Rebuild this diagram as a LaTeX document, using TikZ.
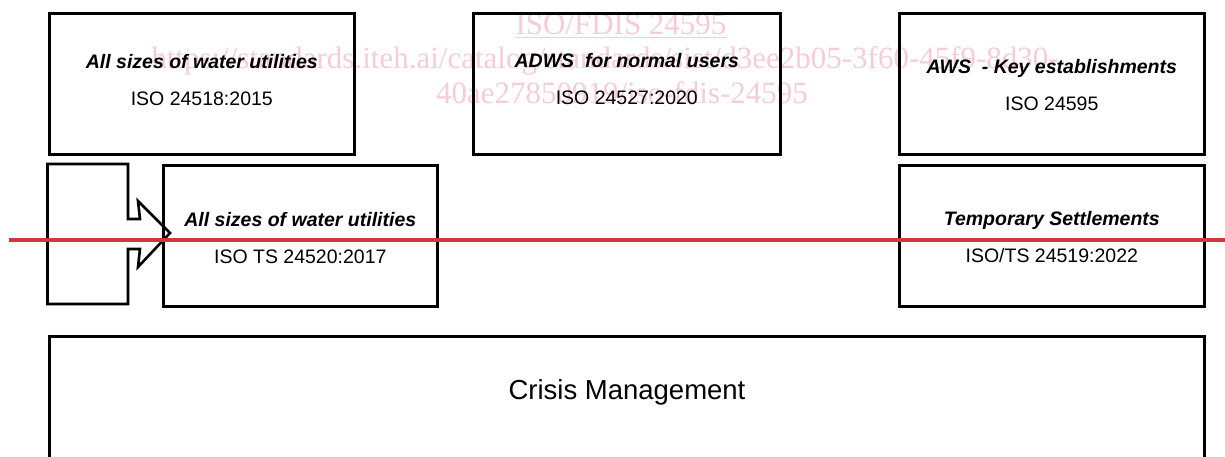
\documentclass[tikz,border=0pt]{standalone}
\usepackage{fontspec}
\setmainfont{Liberation Sans}
\newfontfamily\wmfont{Liberation Serif}
\definecolor{wmpink}{RGB}{246,204,214}
\definecolor{redline}{RGB}{208,55,60}
\begin{document}
\begin{tikzpicture}[x=1pt,y=-1pt,
  box/.style={draw=black, line width=2.6pt, rectangle, inner sep=0pt, anchor=north west},
  lbl/.style={align=center, font=\fontsize{19.5}{37}\selectfont, text=black, inner sep=0pt},
  wm/.style={text=wmpink, font=\wmfont\fontsize{31}{34}\selectfont, anchor=base, inner sep=0pt},
  ttl/.style={font=\bfseries\itshape}
]
\useasboundingbox (0,0) rectangle (1225,457);
% watermark
\node[wm] (w1) at (621,35) {ISO/FDIS 24595};
\draw[wmpink, line width=1.2pt] (w1.base west) ++(0,2.5) -- ([yshift=-2.5pt]w1.base east);
\node[wm] (w2) at (605,69) {https://standards.iteh.ai/catalog/standards/sist/d3ee2b05-3f60-45f9-8d30-};
\node[wm] (w3) at (622,104) {40ae27850919/iso-fdis-24595};
% boxes
\node[box, minimum width=305pt, minimum height=141pt] (A) at (48,12) {};
\node[box, minimum width=307pt, minimum height=141pt] (B) at (472,12) {};
\node[box, minimum width=305pt, minimum height=141pt] (C) at (898,12) {};
\node[box, minimum width=274pt, minimum height=141pt] (D) at (162,164) {};
\node[box, minimum width=305pt, minimum height=141pt] (E) at (898,164) {};
\node[box, minimum width=1155pt, minimum height=170pt] (F) at (48,335) {};
% texts
\node[lbl] (tA) at ([yshift=4pt]A.center) {{\bfseries\itshape All sizes of water utilities}\\ISO 24518:2015};
\node[lbl] (tB) at ([yshift=5pt]B.center) {{\bfseries\itshape ADWS~ for normal users}\\ISO 24527:2020};
\node[lbl] (tC) at ([yshift=-1.5pt]C.center) {{\bfseries\itshape AWS~ - Key establishments}\\ISO 24595};
\node[lbl] (tD) at ([yshift=-2.5pt]D.center) {{\bfseries\itshape All sizes of water utilities}\\ISO TS 24520:2017};
\node[lbl] (tE) at ([yshift=-1.5pt]E.center) {{\bfseries\itshape Temporary Settlements}\\ISO/TS 24519:2022};
\node[font=\fontsize{27.5}{30}\selectfont, inner sep=0pt] (tF) at (627,392) {Crisis Management};
% arrow shape
\draw[line width=2.6pt, line join=miter] (47.5,164) -- (128,164) -- (128,219) -- (140,219) -- (138,201) -- (170,233)
  -- (138,267) -- (140,249) -- (128,249) -- (128,304) -- (47.5,304) -- cycle;
% red line
\coordinate (r1) at (9,240);
\coordinate (r2) at (1225,240);
\draw[redline, line width=3.6pt] (r1) -- (r2);
\end{tikzpicture}
\end{document}
